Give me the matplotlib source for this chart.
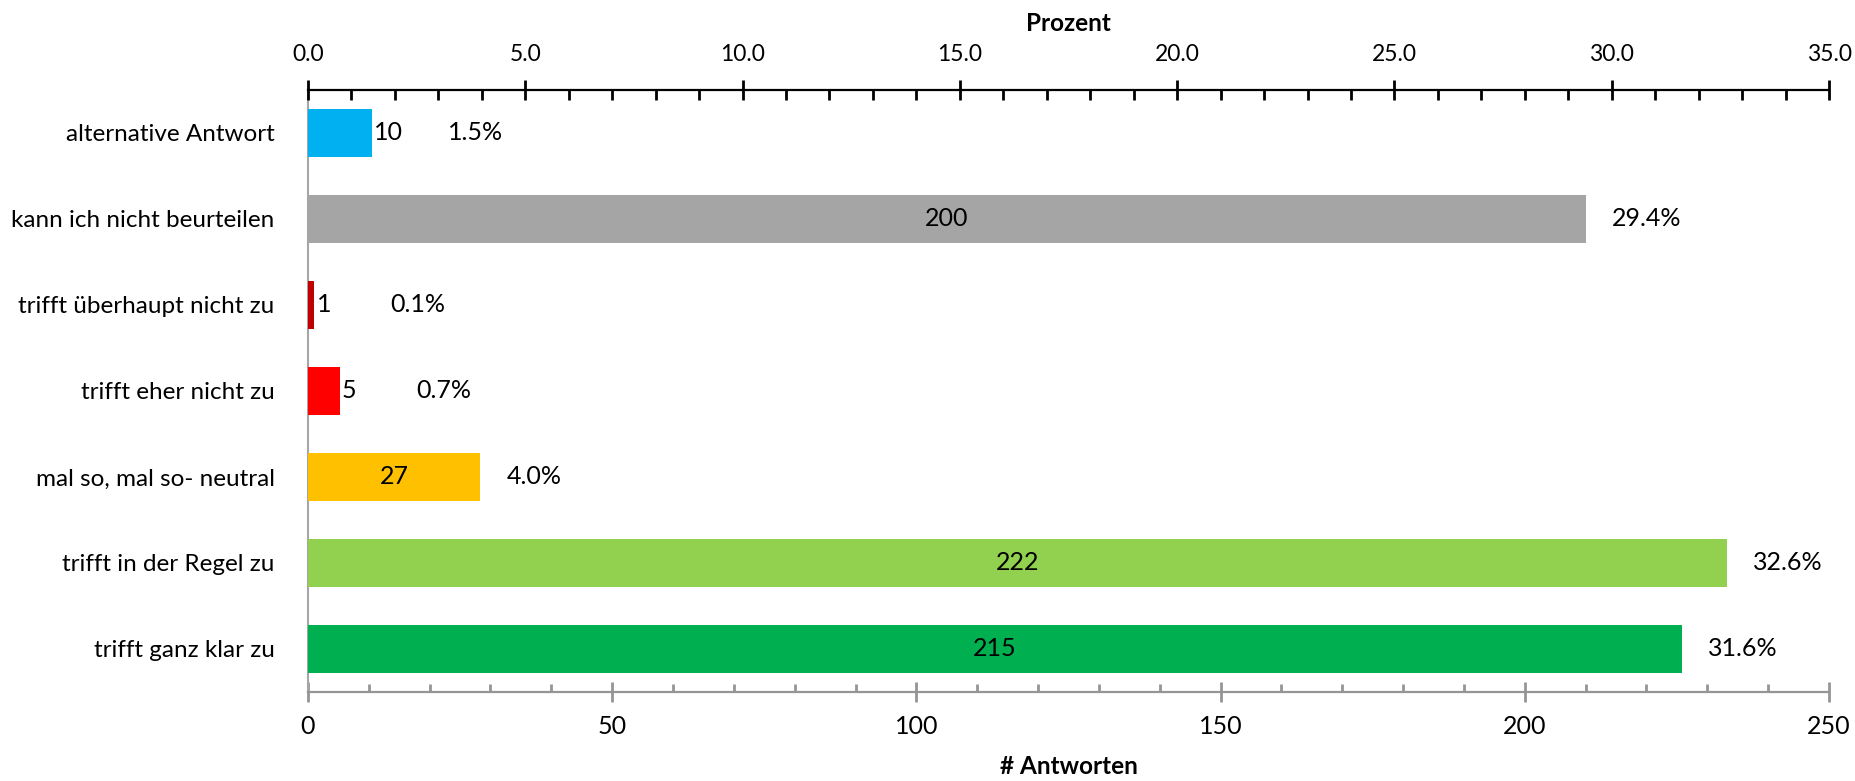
import numpy as np
import matplotlib
matplotlib.use("Agg")
import matplotlib.pyplot as plt
from matplotlib.ticker import MultipleLocator, FormatStrFormatter

plt.rcParams['font.family'] = ['Lato', 'DejaVu Sans']

# data (top row first)
categories = ["alternative Antwort", "kann ich nicht beurteilen", "trifft überhaupt nicht zu",
              "trifft eher nicht zu", "mal so, mal so- neutral", "trifft in der Regel zu",
              "trifft ganz klar zu"]
counts = [10, 200, 1, 5, 27, 222, 215]
colors = ["#00B0F0", "#A5A5A5", "#C00000", "#FF0000", "#FFC000", "#92D050", "#00B050"]

total = sum(counts)
percent = [c / total * 100 for c in counts]

fig = plt.figure(figsize=(18.55, 7.81), dpi=100)
ax = fig.add_axes([0.166, 0.114, 0.820, 0.771])
ax2 = ax.twiny()

y = np.arange(len(categories))
ax2.barh(y, percent, height=0.56, color=colors)

# labels: count on the bar (or just after it if the bar is too short), percent after
for yi, c, p in zip(y, counts, percent):
    if p < 3:
        ax2.text(p + 0.05, yi, str(c), va='center', ha='left', fontsize=18)
        ax2.text(p + 1.75, yi, "%.1f%%" % p, va='center', ha='left', fontsize=18)
    else:
        ax2.text(p / 2, yi, str(c), va='center', ha='center', fontsize=18)
        ax2.text(p + 0.6, yi, "%.1f%%" % p, va='center', ha='left', fontsize=18)

ax.set_ylim(6.5, -0.5)
ax.set_yticks(y)
ax.set_yticklabels(categories, fontsize=17.5)
ax.tick_params(axis='y', length=0, pad=24)

# bottom axis: counts
ax.set_xlim(0, 250)
ax.xaxis.set_major_locator(MultipleLocator(50))
ax.xaxis.set_minor_locator(MultipleLocator(10))
ax.tick_params(axis='x', which='major', direction='inout', length=15, width=2,
               color='#959595', labelsize=18, pad=9)
ax.tick_params(axis='x', which='minor', direction='in', length=5.5, width=2, color='#959595')
ax.set_xlabel("# Antworten", fontsize=17.5, fontweight='bold', labelpad=12)

# top axis: percent
ax2.set_xlim(0, 35)
ax2.xaxis.set_major_locator(MultipleLocator(5))
ax2.xaxis.set_minor_locator(MultipleLocator(1))
ax2.xaxis.set_major_formatter(FormatStrFormatter('%.1f'))
ax2.tick_params(axis='x', which='major', direction='inout', length=14, width=2,
                color='black', labelsize=16.5, pad=11)
ax2.tick_params(axis='x', which='minor', direction='in', length=7, width=2, color='black')
ax2.set_xlabel("Prozent", fontsize=17.5, fontweight='bold', labelpad=9)

for a in (ax, ax2):
    a.spines['right'].set_visible(False)
ax.spines['top'].set_visible(False)
ax2.spines['top'].set_linewidth(1.6)
ax2.spines['top'].set_color('black')
ax2.spines['bottom'].set_visible(False)
ax2.spines['left'].set_visible(False)
ax.spines['bottom'].set_color('#959595')
ax.spines['bottom'].set_linewidth(1.6)
ax.spines['left'].set_color('#A6A6A6')
ax.spines['left'].set_linewidth(1.5)

fig.savefig("out.png", dpi=100)
